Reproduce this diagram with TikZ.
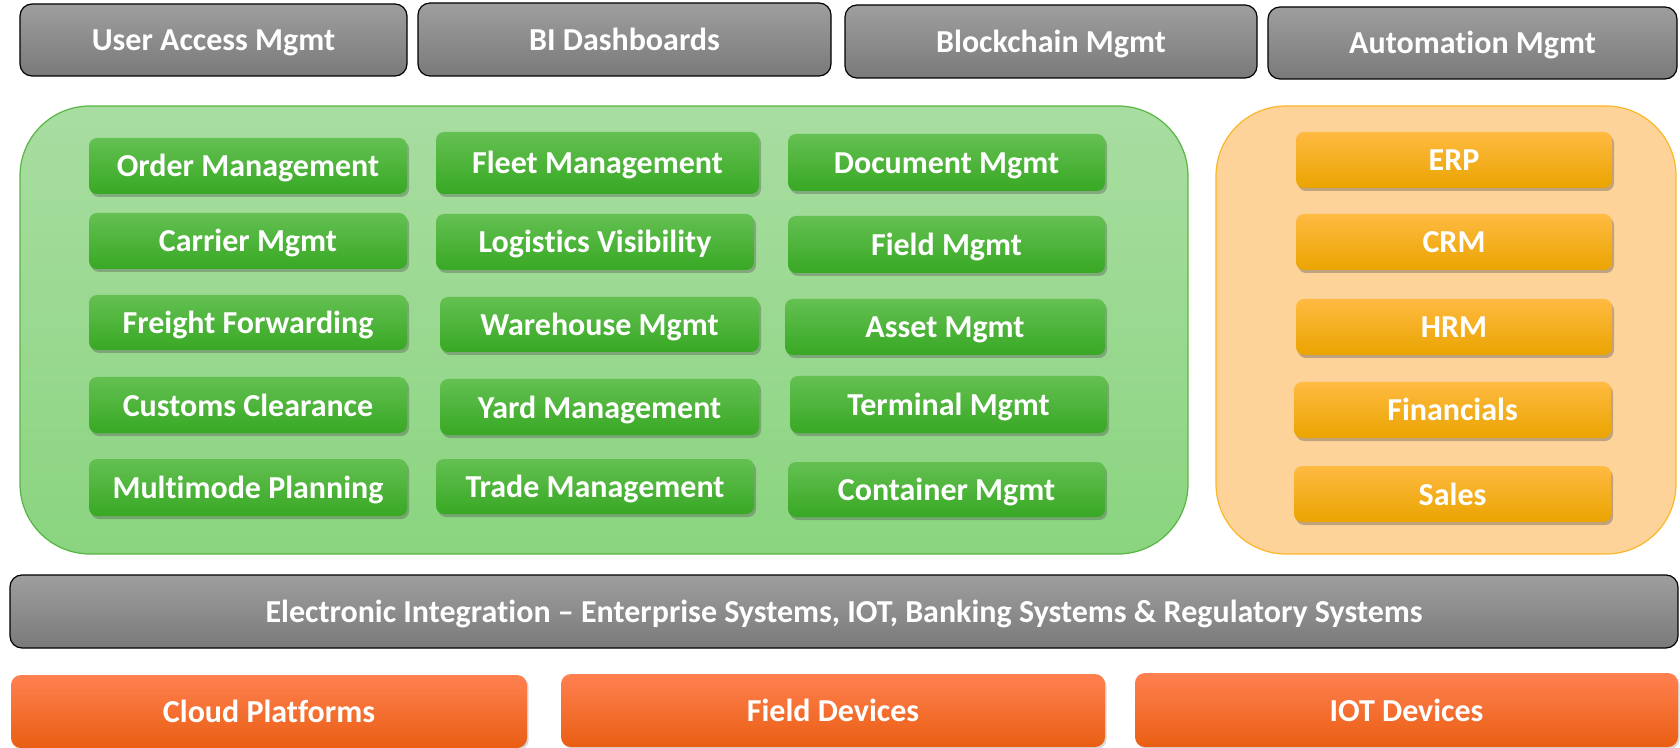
\documentclass[tikz,border=0pt]{standalone}
\usepackage{fontspec}
\setmainfont{Carlito}[Ligatures={NoCommon,NoRequired,NoContextual},RawFeature={-liga;-clig;-calt;-dlig}]
\usetikzlibrary{shadows}
\definecolor{grayT}{RGB}{158,158,158}
\definecolor{grayB}{RGB}{122,122,122}
\definecolor{gcFillT}{RGB}{168,221,161}
\definecolor{gcFillB}{RGB}{138,212,127}
\definecolor{gcDraw}{RGB}{88,182,68}
\definecolor{gbT}{RGB}{100,192,82}
\definecolor{gbB}{RGB}{56,168,36}
\definecolor{ocFill}{RGB}{253,211,153}
\definecolor{ocDraw}{RGB}{250,183,40}
\definecolor{obT}{RGB}{255,186,66}
\definecolor{obM}{RGB}{255,180,0}
\definecolor{obB}{RGB}{234,164,0}
\definecolor{rbT}{RGB}{255,128,80}
\definecolor{rbB}{RGB}{233,94,18}
\newcommand\mybox[7]{\node[#1, minimum width={(#4-#2)*0.5pt}, minimum height={(#5-#3)*0.5pt}] (#6) at ({(#2+#4)/2},{(#3+#5)/2}) {#7};}
\tikzset{
  base/.style={rectangle, inner sep=0pt, text=white, text height=12.6pt, text depth=1.6pt, font=\fontsize{16}{18}\selectfont\bfseries},
  graybox/.style={base, rounded corners=6pt, draw=black, line width=0.6pt, top color=grayT, bottom color=grayB},
  greenbox/.style={base, rounded corners=4pt, top color=gbT, bottom color=gbB,
     drop shadow={shadow xshift=1pt, shadow yshift=-1.5pt, opacity=0.35, fill=black!70}},
  orangebox/.style={base, rounded corners=4pt, top color=obT, middle color=obM, bottom color=obB,
     drop shadow={shadow xshift=1pt, shadow yshift=-1.5pt, opacity=0.35, fill=black!70}},
  redbox/.style={base, rounded corners=5pt, top color=rbT, bottom color=rbB,
     drop shadow={shadow xshift=0.8pt, shadow yshift=-1pt, opacity=0.25, fill=black!60}},
  gcont/.style={rectangle, rounded corners=35pt, draw=gcDraw, line width=0.6pt, top color=gcFillT, bottom color=gcFillB},
  ocont/.style={rectangle, rounded corners=35pt, draw=ocDraw, line width=0.6pt, fill=ocFill},
}
\begin{document}
\begin{tikzpicture}[x=0.5pt,y=-0.5pt]
\useasboundingbox (0,0) rectangle (1680,748);
% top bar
\mybox{graybox}{20}{4}{407}{76}{ua}{User Access Mgmt}
\mybox{graybox}{418}{3}{831}{76}{bi}{BI Dashboards}
\mybox{graybox}{845}{5}{1257}{78}{bc}{Blockchain Mgmt}
\mybox{graybox}{1268}{7}{1677}{79}{am}{Automation Mgmt}
% containers
\mybox{gcont}{20}{106}{1188}{554}{gc}{}
\mybox{ocont}{1216}{106}{1676}{554}{oc}{}
% green col 1
\mybox{greenbox}{89}{138}{407}{194}{om}{Order Management}
\mybox{greenbox}{89}{213}{407}{269}{cm}{Carrier Mgmt}
\mybox{greenbox}{89}{295}{407}{350}{ff}{Freight Forwarding}
\mybox{greenbox}{89}{377}{407}{433}{cc}{Customs Clearance}
\mybox{greenbox}{89}{459}{407}{516}{mp}{Multimode Planning}
% green col 2
\mybox{greenbox}{436}{132}{759}{194}{fm}{Fleet Management}
\mybox{greenbox}{436}{214}{754}{270}{lv}{Logis\kern0pt tics Visibility}
\mybox{greenbox}{440}{297}{759}{352}{wm}{Warehouse Mgmt}
\mybox{greenbox}{440}{379}{759}{435}{ym}{Yard Management}
\mybox{greenbox}{436}{459}{754}{514}{tm}{Trade Management}
% green col 3
\mybox{greenbox}{788}{134}{1105}{191}{dm}{Document Mgmt}
\mybox{greenbox}{788}{216}{1105}{273}{fdm}{Field Mgmt}
\mybox{greenbox}{785}{299}{1105}{355}{asm}{Asset Mgmt}
\mybox{greenbox}{790}{376}{1107}{433}{tem}{Terminal Mgmt}
\mybox{greenbox}{788}{462}{1105}{517}{com}{Container Mgmt}
% orange
\mybox{orangebox}{1296}{132}{1612}{188}{erp}{ERP}
\mybox{orangebox}{1296}{214}{1612}{270}{crm}{CRM}
\mybox{orangebox}{1296}{299}{1612}{355}{hrm}{HRM}
\mybox{orangebox}{1294}{382}{1611}{438}{fin}{Financials}
\mybox{orangebox}{1294}{466}{1611}{522}{sal}{Sales}
% integration
\mybox{graybox}{10}{575}{1678}{648}{ei}{Electronic Integra\kern0pt tion – Enterprise Systems, IOT, Banking Systems \& Regulatory Systems}
% bottom
\mybox{redbox}{11}{675}{527}{748}{cp}{Cloud Platforms}
\mybox{redbox}{561}{674}{1105}{747}{fd}{Field Devices}
\mybox{redbox}{1135}{673}{1678}{747}{iot}{IOT Devices}
\end{tikzpicture}
\end{document}
